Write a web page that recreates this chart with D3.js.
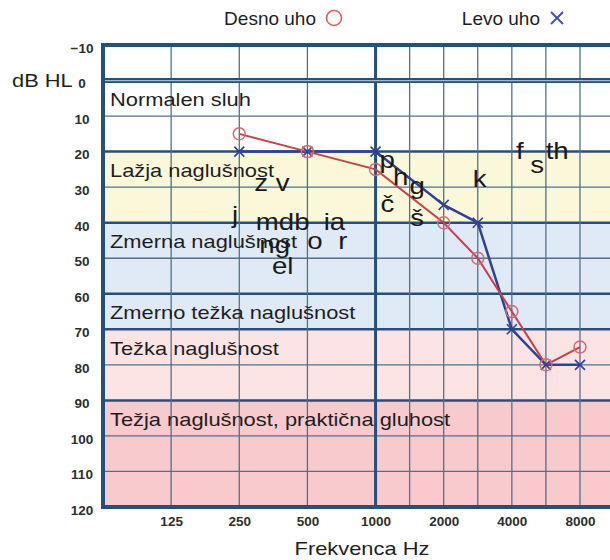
<!DOCTYPE html>
<html>
<head>
<meta charset="utf-8">
<script src="https://cdn.jsdelivr.net/npm/d3@7"></script>
<style>
  html, body { margin: 0; padding: 0; background: #fff; }
  svg { display: block; font-family: "Liberation Sans", Arial, sans-serif; }
</style>
</head>
<body>
<div id="chart"></div>
<script>
  // audiometric frequency slots (half steps below 1000 Hz have no grid line)
  var freqSlots = [62.5, 90, 125, 180, 250, 355, 500, 710, 1000, 1500, 2000, 3000, 4000, 6000, 8000, 12000];
  var gridFreqs = [125, 250, 500, 1000, 1500, 2000, 3000, 4000, 6000, 8000];
  var freqTicks = [125, 250, 500, 1000, 2000, 4000, 8000];
  var dbTicks = [-10, 0, 10, 20, 30, 40, 50, 60, 70, 80, 90, 100, 110, 120];
  var thickDb = [0, 20, 40, 60, 70, 90];

  var bandLabels = ['Normalen sluh', 'Lažja naglušnost', 'Zmerna naglušnost',
                    'Zmerno težka naglušnost', 'Težka naglušnost',
                    'Težja naglušnost, praktična gluhost'];
  var bandFrom = [0, 20, 40, 60, 70, 90];
  var bandTo = [20, 40, 60, 70, 90, 120];

  var earFreqs = [250, 500, 1000, 2000, 3000, 4000, 6000, 8000];
  var rightEar = [15, 20, 25, 40, 50, 65, 80, 75];   // Desno uho
  var leftEar = [20, 20, 20, 35, 40, 70, 80, 80];    // Levo uho

  // speech sounds: text, approx. frequency (Hz), level (dB HL)
  var soundText = ['z v', 'p', 'h', 'g', 'č', 'š', 'j', 'mdb', 'ia', 'ng', 'o', 'r', 'el', 'k', 'f', 's', 'th'];
  var soundFreq = [350, 1150, 1350, 1600, 1150, 1600, 240, 390, 660, 360, 540, 720, 390, 3050, 4400, 5400, 6600];
  var soundDb = [31, 24.5, 29.5, 32, 37, 41, 40, 42, 42, 48.5, 47.5, 47.5, 54.5, 30, 22, 26, 22];

  (function () {
    'use strict';

    var bandFill = ['#ffffff', '#fbf8da', '#dfeaf6', '#dfeaf6', '#fce4e5', '#f8c9cd'];
    var darkLine = '#24507c';
    var thinLine = '#52708a';
    var redCol = '#c8404c';
    var blueCol = '#2f4196';
    var stretchX = 1.15;

    var width = 610, height = 560;
    var plotL = 103, plotT = 45, plotB = 507;

    var svg = d3.select('#chart').append('svg')
      .attr('width', width)
      .attr('height', height);

    var slotScale = d3.scalePoint()
      .domain(freqSlots)
      .range([plotL, plotL + 34.07 * (freqSlots.length - 1)]);

    // continuous log scale through the slots
    var x = d3.scaleLog().base(2)
      .domain(freqSlots)
      .range(freqSlots.map(function(f) { return slotScale(f); }));

    var y = d3.scaleLinear().domain([-10, 120]).range([plotT, plotB]);
    var plotR = x(12000);

    function stretch(sel) {
      sel.each(function() {
        var w = this.getComputedTextLength();
        d3.select(this)
          .attr('textLength', w * stretchX)
          .attr('lengthAdjust', 'spacingAndGlyphs');
      });
    }

    // bands
    svg.append('rect')
      .attr('x', plotL).attr('y', plotT)
      .attr('width', plotR - plotL).attr('height', plotB - plotT)
      .attr('fill', '#fff');

    svg.selectAll('rect.band')
      .data(bandLabels)
      .enter().append('rect')
      .attr('class', 'band')
      .attr('x', plotL)
      .attr('y', function(d, i) { return y(bandFrom[i]); })
      .attr('width', plotR - plotL)
      .attr('height', function(d, i) { return y(bandTo[i]) - y(bandFrom[i]); })
      .attr('fill', function(d, i) { return bandFill[i]; });

    // grid
    var grid = svg.append('g');
    grid.selectAll('line.h')
      .data(dbTicks.slice(1, -1))
      .enter().append('line')
      .attr('x1', plotL).attr('x2', plotR)
      .attr('y1', function(d) { return y(d); })
      .attr('y2', function(d) { return y(d); })
      .attr('stroke', function(d) { return thickDb.indexOf(d) >= 0 ? darkLine : thinLine; })
      .attr('stroke-width', function(d) { return thickDb.indexOf(d) >= 0 ? 2.5 : 1.3; });

    grid.selectAll('line.v')
      .data(gridFreqs)
      .enter().append('line')
      .attr('x1', function(d) { return x(d); })
      .attr('x2', function(d) { return x(d); })
      .attr('y1', plotT).attr('y2', plotB)
      .attr('stroke', function(d) { return d === 1000 ? darkLine : thinLine; })
      .attr('stroke-width', function(d) { return d === 1000 ? 3 : 1.3; });

    // double zero line
    svg.append('line')
      .attr('x1', plotL).attr('x2', plotR)
      .attr('y1', y(0)).attr('y2', y(0))
      .attr('stroke', darkLine).attr('stroke-width', 5);
    svg.append('line')
      .attr('x1', plotL).attr('x2', plotR)
      .attr('y1', y(0)).attr('y2', y(0))
      .attr('stroke', '#9db8d2').attr('stroke-width', 1.3);

    // frame
    svg.append('rect')
      .attr('x', plotL).attr('y', plotT)
      .attr('width', plotR - plotL).attr('height', plotB - plotT)
      .attr('fill', 'none')
      .attr('stroke', darkLine)
      .attr('stroke-width', 4);

    // band labels
    svg.selectAll('text.band')
      .data(bandLabels)
      .enter().append('text')
      .attr('class', 'band')
      .attr('x', plotL + 7)
      .attr('y', function(d, i) { return y(bandFrom[i] + 10) - 10; })
      .attr('font-size', 19)
      .attr('fill', '#1e1e1e')
      .text(function(d) { return d; })
      .call(stretch);

    // axes
    var yAxis = d3.axisLeft(y).tickValues(dbTicks).tickSize(0).tickPadding(0);
    var gy = svg.append('g')
      .attr('transform', 'translate(82,3)')
      .call(yAxis);
    gy.select('.domain').remove();
    gy.selectAll('text')
      .attr('text-anchor', 'middle')
      .attr('font-size', 13.5)
      .attr('font-weight', 'bold')
      .attr('font-family', '"Liberation Sans", Arial, sans-serif')
      .attr('fill', '#2e2e2e');

    var xAxis = d3.axisBottom(x).tickValues(freqTicks).tickSize(0).tickPadding(0)
      .tickFormat(d3.format('d'));
    var gx = svg.append('g')
      .attr('transform', 'translate(0,516)')
      .call(xAxis);
    gx.select('.domain').remove();
    gx.selectAll('text')
      .attr('font-size', 13.5)
      .attr('font-weight', 'bold')
      .attr('font-family', '"Liberation Sans", Arial, sans-serif')
      .attr('fill', '#2e2e2e');

    svg.append('text')
      .attr('x', 12).attr('y', 87)
      .attr('font-size', 19)
      .attr('fill', '#1e1e1e')
      .text('dB HL')
      .call(stretch);

    svg.append('text')
      .attr('x', 362).attr('y', 555)
      .attr('text-anchor', 'middle')
      .attr('font-size', 19)
      .attr('fill', '#1e1e1e')
      .text('Frekvenca Hz')
      .call(stretch);

    // ear lines
    var line = d3.line()
      .x(function(d) { return x(d[0]); })
      .y(function(d) { return y(d[1]); });

    var leftPts = earFreqs.map(function(f, i) { return [f, leftEar[i]]; });
    var rightPts = earFreqs.map(function(f, i) { return [f, rightEar[i]]; });

    svg.append('path')
      .datum(leftPts)
      .attr('d', line)
      .attr('fill', 'none')
      .attr('stroke', blueCol)
      .attr('stroke-width', 2.5);

    svg.append('path')
      .datum(rightPts)
      .attr('d', line)
      .attr('fill', 'none')
      .attr('stroke', redCol)
      .attr('stroke-width', 2);

    svg.selectAll('path.cross')
      .data(leftPts)
      .enter().append('path')
      .attr('class', 'cross')
      .attr('transform', function(d) { return 'translate(' + x(d[0]) + ',' + y(d[1]) + ')'; })
      .attr('d', 'M-5,-5L5,5M-5,5L5,-5')
      .attr('stroke', blueCol)
      .attr('stroke-width', 1.6);

    svg.selectAll('circle.pt')
      .data(rightPts)
      .enter().append('circle')
      .attr('class', 'pt')
      .attr('cx', function(d) { return x(d[0]); })
      .attr('cy', function(d) { return y(d[1]); })
      .attr('r', 6)
      .attr('fill', 'none')
      .attr('stroke', '#d46a72')
      .attr('stroke-width', 1.5);

    // speech sounds
    svg.selectAll('text.sound')
      .data(soundText)
      .enter().append('text')
      .attr('class', 'sound')
      .attr('x', function(d, i) { return x(soundFreq[i]); })
      .attr('y', function(d, i) { return y(soundDb[i]); })
      .attr('text-anchor', 'middle')
      .attr('font-size', 24)
      .attr('fill', '#1a1a1a')
      .text(function(d) { return d; })
      .call(stretch);

    // legend
    var legend = svg.append('g');
    legend.append('text')
      .attr('x', 316).attr('y', 25)
      .attr('text-anchor', 'end')
      .attr('font-size', 19)
      .attr('fill', '#1e1e1e')
      .text('Desno uho');
    legend.append('circle')
      .attr('cx', 334).attr('cy', 18).attr('r', 7.5)
      .attr('fill', 'none')
      .attr('stroke', '#e05a60')
      .attr('stroke-width', 1.6);
    legend.append('text')
      .attr('x', 540).attr('y', 25)
      .attr('text-anchor', 'end')
      .attr('font-size', 19)
      .attr('fill', '#1e1e1e')
      .text('Levo uho');
    legend.append('path')
      .attr('transform', 'translate(557,18)')
      .attr('d', 'M-6,-6L6,6M-6,6L6,-6')
      .attr('stroke', '#3f55a8')
      .attr('stroke-width', 2);
  })();
</script>
</body>
</html>
